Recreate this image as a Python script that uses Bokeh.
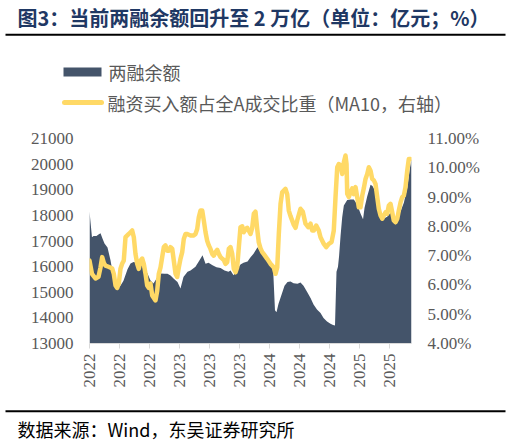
import math
from bokeh.plotting import figure
from bokeh.layouts import column
from bokeh.models import Range1d, LinearAxis, FixedTicker, PrintfTickFormatter
from bokeh.core.properties import value
from bokeh.embed import file_html
from bokeh.resources import INLINE

# ---- data (x: months since 2022-01-01) ----
area_t = [0.00, 0.33, 0.53, 0.93, 1.20, 1.47, 1.73, 2.00, 2.40, 2.80, 3.07, 3.33, 3.73,
          4.13, 4.53, 5.07, 5.47, 5.87, 6.27, 6.80, 7.07, 7.73, 8.13, 8.53, 9.07, 9.47,
          10.00, 10.40, 10.80, 11.20, 11.73, 12.13, 12.53, 13.07, 13.47, 14.13, 14.67,
          15.07, 15.47, 15.87, 16.40, 16.93, 17.47, 18.00, 18.53, 18.80, 19.20, 19.73,
          20.13, 20.53, 21.07, 21.47, 21.87, 22.40, 22.80, 23.20, 23.73, 24.13, 24.47,
          24.73, 24.93, 25.20, 25.60, 26.00, 26.40, 26.80, 27.20, 27.73, 28.13, 28.53,
          29.00, 29.47, 29.87, 30.33, 30.80, 31.20, 31.67, 32.13, 32.47, 32.73, 32.93,
          33.13, 33.27, 33.47, 33.69, 33.91, 34.36, 34.80, 35.24, 35.69, 36.13, 36.47,
          36.67, 37.03, 37.47, 37.73, 38.00, 38.36, 38.80, 39.20, 39.69, 40.13, 40.57,
          41.03, 41.47, 41.91, 42.36, 42.71, 42.93]
balance = [18150, 17150, 17200, 17200, 17250, 17300, 17100, 16900, 16750, 16250, 15800,
           15350, 15250, 15250, 15450, 15900, 16120, 16180, 16150, 16150, 15980, 15730,
           15460, 15340, 15600, 15730, 15720, 15720, 15650, 15540, 15400, 15150, 15600,
           15800, 15850, 16000, 16250, 16440, 16110, 16150, 16050, 15980, 15950, 15850,
           15800, 15850, 15660, 15900, 16080, 16150, 16200, 16370, 16500, 16760, 16570,
           16450, 16310, 16180, 15980, 14300, 14220, 14550, 14900, 15250, 15400, 15420,
           15350, 15330, 15380, 15250, 15020, 14780, 14520, 14330, 14190, 14000, 13860,
           13770, 13720, 13700, 15800, 16000, 16400, 17200, 17930, 18390, 18600, 18620,
           18620, 18420, 18070, 17850, 18300, 18750, 19200, 19150, 19000, 18600, 18150,
           17870, 17950, 18100, 17840, 17950, 18150, 18490, 19070, 19820, 20200]

line_t = [0.00, 0.33, 0.80, 1.20, 1.47, 1.69, 1.91, 2.13, 2.53, 3.03, 3.24, 3.47, 3.69,
          3.91, 4.13, 4.36, 4.57, 4.80, 5.24, 5.69, 5.91, 6.13, 6.36, 6.57, 6.80, 7.03,
          7.24, 7.47, 7.69, 7.91, 8.13, 8.36, 8.80, 9.03, 9.24, 9.47, 9.69, 9.91, 10.13,
          10.36, 10.57, 10.80, 11.03, 11.24, 11.47, 11.69, 11.91, 12.13, 12.36, 12.57,
          12.80, 13.03, 13.47, 13.91, 14.13, 14.36, 14.57, 14.80, 15.03, 15.24, 15.47,
          15.69, 15.91, 16.13, 16.36, 16.57, 16.80, 17.03, 17.24, 17.47, 17.69, 17.91,
          18.13, 18.36, 18.57, 18.80, 19.03, 19.24, 19.47, 19.69, 19.91, 20.13, 20.36,
          20.57, 20.80, 21.03, 21.24, 21.47, 21.69, 21.91, 22.13, 22.36, 22.57, 22.80,
          23.03, 23.24, 23.69, 24.13, 24.57, 24.80, 25.03, 25.24, 25.47, 25.69, 26.13,
          26.36, 26.57, 26.80, 27.24, 27.47, 27.69, 28.13, 28.44, 28.80, 29.16, 29.47,
          29.69, 29.91, 30.23, 30.57, 30.80, 31.24, 31.56, 31.91, 32.27, 32.57, 32.80,
          33.03, 33.24, 33.47, 33.69, 33.91, 34.13, 34.27, 34.36, 34.57, 34.80, 35.03,
          35.24, 35.47, 35.69, 35.91, 36.13, 36.36, 36.57, 36.80, 37.03, 37.24, 37.47,
          37.69, 37.91, 38.13, 38.36, 38.57, 38.80, 39.03, 39.24, 39.47, 39.69, 39.91,
          40.13, 40.36, 40.57, 40.80, 41.03, 41.24, 41.47, 41.69, 41.91, 42.13, 42.36,
          42.57, 42.80]
buy_share = [6.83, 6.38, 6.22, 6.28, 6.60, 6.95, 6.75, 6.66, 6.62, 6.56, 6.38, 5.98, 5.90,
             6.05, 6.55, 6.73, 6.83, 7.63, 7.74, 7.86, 7.63, 7.06, 6.72, 6.55, 6.83, 6.90,
             6.72, 6.38, 5.98, 5.90, 6.05, 5.64, 5.47, 5.81, 6.38, 6.60, 6.95, 7.29, 7.35,
             7.17, 7.17, 7.29, 7.23, 6.83, 6.38, 6.27, 6.60, 6.89, 7.12, 7.57, 7.74, 7.74,
             7.69, 7.69, 7.74, 7.91, 8.31, 8.54, 8.54, 8.20, 7.80, 7.51, 7.35, 7.23, 7.06,
             7.00, 7.12, 7.20, 7.06, 6.95, 6.90, 6.85, 6.72, 6.78, 7.23, 7.29, 7.06, 6.55,
             6.43, 6.60, 7.29, 7.97, 8.00, 7.80, 7.90, 7.95, 7.85, 7.74, 7.95, 8.43, 8.50,
             7.90, 7.45, 7.25, 7.12, 7.05, 6.89, 6.72, 6.60, 6.38, 6.60, 7.74, 8.77, 9.16,
             9.28, 9.10, 8.54, 8.35, 8.05, 7.95, 8.20, 8.60, 8.50, 8.09, 7.97, 8.09, 7.86,
             7.86, 8.03, 7.86, 7.63, 7.40, 7.29, 7.40, 7.46, 7.86, 9.00, 10.02, 10.13,
             10.08, 9.79, 10.19, 10.42, 10.13, 9.11, 9.00, 9.16, 9.30, 9.10, 9.34, 9.00,
             8.65, 8.65, 9.05, 9.30, 9.62, 9.79, 10.02, 9.90, 9.62, 9.57, 9.45, 9.00, 8.60,
             8.37, 8.26, 8.37, 8.48, 8.43, 8.71, 8.77, 8.48, 8.20, 8.14, 8.26, 8.54, 8.82,
             9.00, 9.05, 9.34, 9.90, 10.30, 10.30]

x_ticks = [0, 4, 8, 12, 16, 20, 24, 28, 32, 36, 40]
x_tick_labels = ["2022", "2022", "2022", "2023", "2023", "2023",
                 "2024", "2024", "2024", "2025", "2025"]
left_ticks = [13000, 14000, 15000, 16000, 17000, 18000, 19000, 20000, 21000]
right_ticks = [4, 5, 6, 7, 8, 9, 10, 11]

title_text = "图3：当前两融余额回升至 2 万亿（单位：亿元；%）"
legend1 = "两融余额"
legend2 = "融资买入额占全A成交比重（MA10，右轴）"
source_text = "数据来源：Wind，东吴证券研究所"

AREA_C = "#44546A"
LINE_C = "#FFD966"
TXT_C = "#595959"
CJK = "Noto Sans CJK SC"
SERIF = "Liberation Serif"
W = 511
TOP_H, MAIN_H, BOT_H = 123, 270, 52


def deco_fig(h):
    f = figure(width=W, height=h, output_backend="svg", toolbar_location=None,
               x_range=Range1d(0, W), y_range=Range1d(h, 0),
               x_axis_type=None, y_axis_type=None, title=None,
               min_border=0, min_border_left=0, min_border_right=0,
               min_border_top=0, min_border_bottom=0)
    f.outline_line_color = None
    f.xgrid.visible = False
    f.ygrid.visible = False
    return f


def txt(f, x, y, s, size, color, bold=False):
    f.text(x=[x], y=[y], text=[s], text_font=value(CJK), text_font_size=value(size),
           text_color=color, text_font_style="bold" if bold else "normal",
           text_baseline="middle", text_align="left")


# ---- header: title, rule, legend ----
top = deco_fig(TOP_H)
txt(top, 17, 17, title_text, "20px", "#1F3864", bold=True)
top.line(x=[5, 505], y=[34.3, 34.3], line_color="#000000", line_width=2)
top.quad(left=[63], right=[101], top=[67], bottom=[76], fill_color=AREA_C, line_color=None)
txt(top, 108, 71, legend1, "18px", TXT_C)
top.line(x=[64, 101], y=[102, 102], line_color=LINE_C, line_width=5, line_cap="round")
txt(top, 107, 102, legend2, "18px", TXT_C)

# ---- main chart ----
p = figure(width=W, height=MAIN_H, output_backend="svg", toolbar_location=None,
           x_range=Range1d(0, 42.93), y_range=Range1d(13000, 21000),
           min_border_left=89, min_border_right=100, min_border_top=15,
           min_border_bottom=50, title=None)
p.extra_y_ranges = {"pct": Range1d(4, 11)}
p.outline_line_color = None
p.xgrid.visible = False
p.ygrid.visible = False

p.varea(x=area_t, y1=13000, y2=balance, fill_color=AREA_C)
p.line(line_t, buy_share, y_range_name="pct", line_color=LINE_C, line_width=4.5,
       line_join="round", line_cap="round")

xa = p.xaxis[0]
xa.ticker = FixedTicker(ticks=x_ticks)
xa.major_label_overrides = {t: l for t, l in zip(x_ticks, x_tick_labels)}
xa.major_label_orientation = math.pi / 2
xa.axis_line_color = "#D9D9D9"
xa.major_tick_line_color = "#D9D9D9"
xa.major_tick_in = 0
xa.major_tick_out = 5
xa.minor_tick_line_color = None
xa.major_label_standoff = 5
xa.major_label_text_font = SERIF
xa.major_label_text_font_size = "17px"
xa.major_label_text_color = TXT_C

ya = p.yaxis[0]
ya.ticker = FixedTicker(ticks=left_ticks)
ya.formatter = PrintfTickFormatter(format="%d")
ya.axis_line_color = None
ya.major_tick_line_color = None
ya.minor_tick_line_color = None
ya.major_tick_in = 0
ya.major_tick_out = 0
ya.major_label_standoff = 16
ya.major_label_text_font = SERIF
ya.major_label_text_font_size = "17px"
ya.major_label_text_color = TXT_C

ra = LinearAxis(y_range_name="pct", ticker=FixedTicker(ticks=right_ticks),
                formatter=PrintfTickFormatter(format="%.2f%%"))
ra.axis_line_color = None
ra.major_tick_line_color = None
ra.minor_tick_line_color = None
ra.major_tick_in = 0
ra.major_tick_out = 0
ra.major_label_standoff = 16
ra.major_label_text_font = SERIF
ra.major_label_text_font_size = "17px"
ra.major_label_text_color = TXT_C
p.add_layout(ra, "right")

# ---- footer: rule and source ----
bot = deco_fig(BOT_H)
bot.line(x=[5, 505], y=[17.7, 17.7], line_color="#000000", line_width=2)
txt(bot, 17, 35, source_text, "18px", "black")

layout = column(column(top), p, column(bot), spacing=0)
open("out.html", "w").write(file_html(layout, INLINE))
